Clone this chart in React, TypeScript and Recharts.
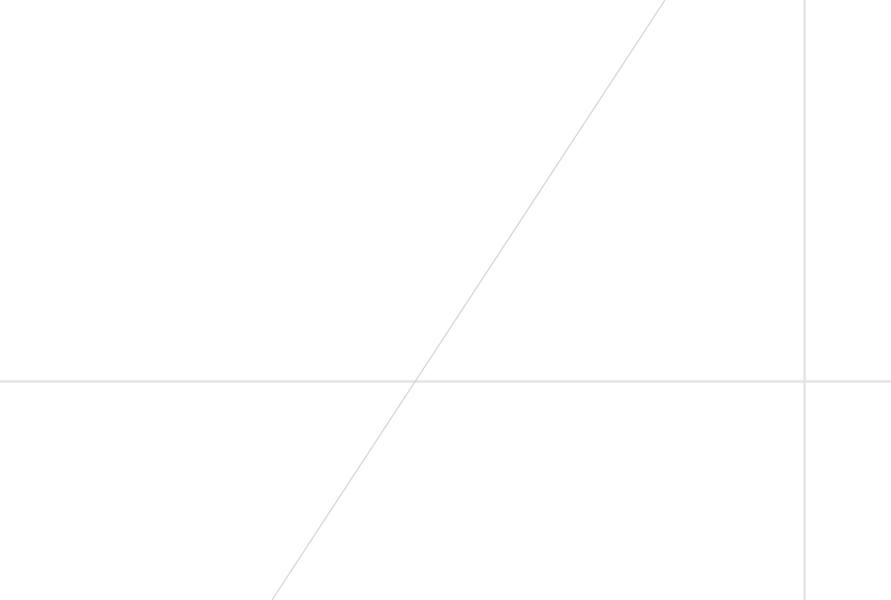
import React from 'react';
import {
  ComposedChart,
  Line,
  XAxis,
  YAxis,
  ReferenceLine,
} from 'recharts';

// visible window of the plot (data units)
const xDomain = [-4.16, 4.75];
const yDomain = [-2.19, 3.81];

// axis-like guides
const hLineY = -0.005;
const vLineX = 3.885;

// diagonal guide
const diagX = [-1.44, 2.49];
const diagY = [-2.19, 3.81];

const diagData = diagX.map((x, i) => ({ x, y: diagY[i] }));

const App: React.FC = () => {
  return (
    <div style={{ position: 'absolute', top: 0, left: 0, width: 891, height: 600, background: '#fff' }}>
      <ComposedChart
        width={891}
        height={600}
        data={diagData}
        margin={{ top: 0, right: 0, bottom: 0, left: 0 }}
      >
        <XAxis
          type="number"
          dataKey="x"
          domain={xDomain}
          allowDataOverflow
          hide
        />
        <YAxis type="number" domain={yDomain} allowDataOverflow hide />
        <ReferenceLine y={hLineY} stroke="#e4e4e4" strokeWidth={2.4} />
        <ReferenceLine x={vLineX} stroke="#e4e4e4" strokeWidth={2.4} />
        <Line
          type="linear"
          dataKey="y"
          stroke="#d6d6d6"
          strokeWidth={1.3}
          dot={false}
          activeDot={false}
          isAnimationActive={false}
        />
      </ComposedChart>
    </div>
  );
};

export default App;
